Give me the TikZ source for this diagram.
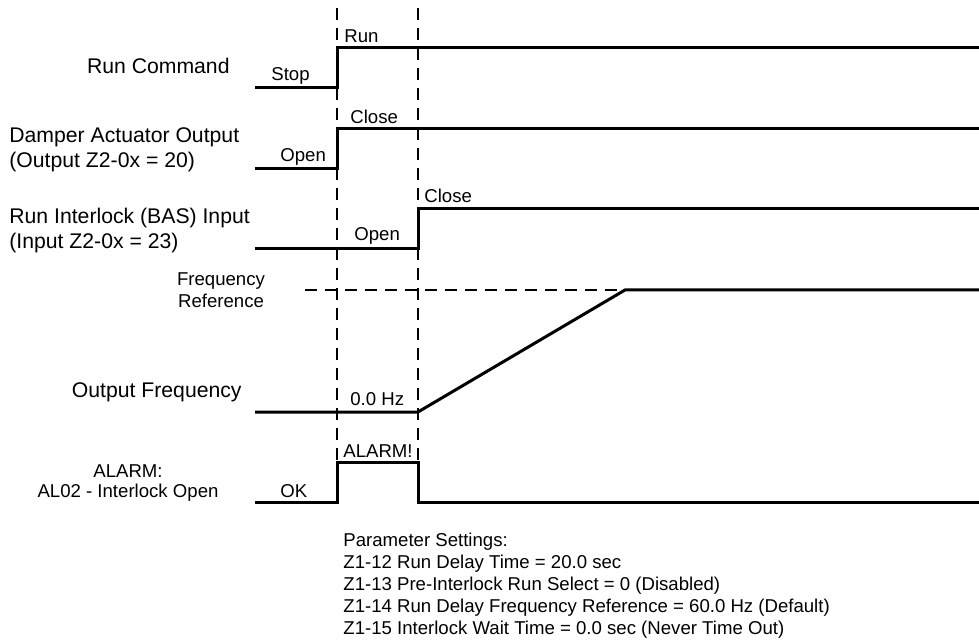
\documentclass[tikz,border=0pt]{standalone}
\usepackage{fontspec}
\setmainfont{Liberation Sans}
\usetikzlibrary{positioning}
\tikzset{
  wave/.style   ={line width=1.5pt, line join=miter},
  guide/.style  ={line width=1pt, dash pattern=on 6pt off 4pt},
  signame/.style={font=\fontsize{10.6}{12.5}\selectfont, inner sep=0pt},
  state/.style  ={font=\fontsize{9.3}{11}\selectfont, inner sep=0pt, anchor=base west},
}

\begin{document}
\begin{tikzpicture}[x=0.5pt,y=-0.5pt]
\useasboundingbox (0,0) rectangle (979,641);

% time marks
\draw[guide] (337,8) -- (337,462);
\draw[guide] (418,8) -- (418,462);
\draw[guide] (305,290) -- (979,290);

% signal names (base = last line)
\node[signame,anchor=base east] (runcmd) at (230,74) {Run Command};
\node[signame,anchor=base west,align=left] (damper) at (9,168) {Damper Actuator Output\\(Output Z2-0x = 20)};
\node[signame,anchor=base west,align=left] (ilock) at (9,249) {Run Interlock (BAS) Input\\(Input Z2-0x = 23)};
\node[state,anchor=base,align=center] (fref) at (221,308) {Frequency\\Reference};
\node[signame,anchor=base east] (ofreq) at (242,398) {Output Frequency};
\node[state,anchor=base,align=center,font=\fontsize{9.3}{10}\selectfont] (alarm) at (128,497) {ALARM:\\AL02 - Interlock Open};

% waveforms
\draw[wave] (255,88) -| (337,48) -- (979,48);
\draw[wave] (255,169) -| (337,129) -- (979,129);
\draw[wave] (255,249) -| (418,209) -- (979,209);
\draw[wave] (255,412) -- (418,412) -- (625,290) -- (979,290);
\draw[wave] (255,502) -| (337,462) -| (418,502) -- (979,502);

% states
\node[state] (stop) at (271,81) {Stop};
\node[state] (run) at (344,43) {Run};
\node[state] (dopen) at (280,162) {Open};
\node[state] (dclose) at (350,124) {Close};
\node[state] (iopen) at (354,241) {Open};
\node[state] (iclose) at (424,203) {Close};
\node[state] (zero) at (350,406) {0.0 Hz};
\node[state] (ok) at (280,497) {OK};
\node[state] (alm) at (343,457) {ALARM!};

% parameter settings
\node[state,align=left] (params) at (343,634) {Parameter Settings:\\
  Z1-12 Run Delay Time = 20.0 sec\\
  Z1-13 Pre-Interlock Run Select = 0 (Disabled)\\
  Z1-14 Run Delay Frequency Reference = 60.0 Hz (Default)\\
  Z1-15 Interlock Wait Time = 0.0 sec (Never Time Out)};
\end{tikzpicture}
\end{document}
